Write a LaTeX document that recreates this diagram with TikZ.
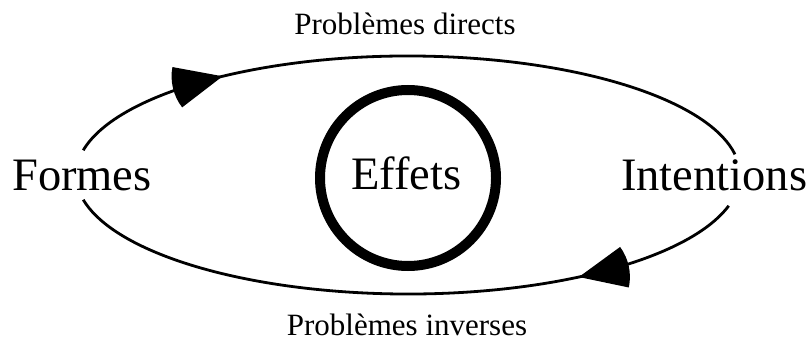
\documentclass[tikz,border=0pt]{standalone}
\usepackage{fontspec}
\setmainfont{Liberation Serif}
\usetikzlibrary{
  positioning,
  calc,
  decorations.markings
}

\begin{document}
\begin{tikzpicture}[
        x=1pt, y=1pt,
        big/.style={inner sep=0pt, font=\fontsize{46.5}{50}\selectfont},
        small/.style={inner sep=0pt, font=\fontsize{31}{34}\selectfont},
        loopline/.style={line width=2.8pt},
        sector tip/.style={postaction={decorate}, decoration={markings,
            mark=at position #1 with {\fill (0,0) -- (156:51pt) arc[start angle=156, end angle=204, radius=51pt] -- cycle;}}}
    ]
        \useasboundingbox (0,0) rectangle (810,340);
        % Centre des deux boucles
        \coordinate (c) at (408,165);
        % Textes
        \node[big, anchor=base west] (formes) at (12,149) {Formes};
        \node[big, anchor=base west] (intentions) at (621,149) {Intentions};
        \node[big, anchor=base] (effets) at (406.5,150) {Effets};
        \node[small, anchor=base] (directs) at (405,305) {Problèmes directs};
        \node[small, anchor=base] (inverses) at (407,5) {Problèmes inverses};
        % Cercle épais autour des effets
        \draw[line width=10pt] (408,162) circle[radius=88];
        % Extrémités des arcs
        \path (c) ++(168:332 and 119) coordinate (ftop);
        \path (c) ++(345:332 and 119) coordinate (ibot);
        % Arc du haut : formes -> intentions
        \draw[loopline, sector tip=0.23] (ftop) arc[start angle=168, end angle=10, x radius=332, y radius=119];
        % Arc du bas : intentions -> formes
        \draw[loopline, sector tip=0.245] (ibot) arc[start angle=345, end angle=192, x radius=332, y radius=119];
    \end{tikzpicture}
\end{document}
